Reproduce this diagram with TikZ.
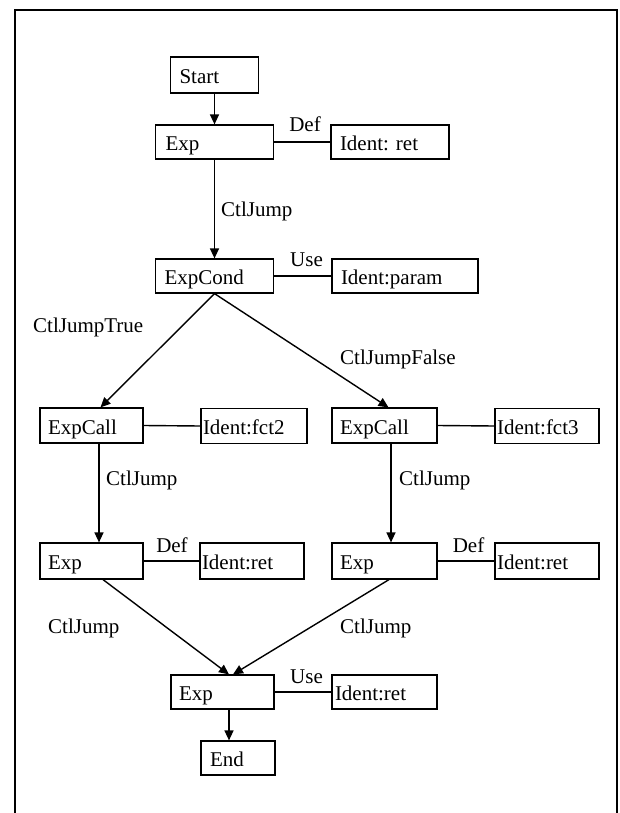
\documentclass[tikz,border=0pt]{standalone}
\usepackage{fontspec}
\setmainfont{Liberation Serif}
\usetikzlibrary{arrows.meta}
\newcommand{\myfont}{\fontsize{21pt}{24pt}\selectfont}
\tikzset{
  bx/.style={draw, line width=1.2pt, rectangle, inner ysep=0pt, text height=19pt, text depth=2pt, align=left, font=\myfont},
  lbl/.style={inner sep=0pt, font=\myfont},
  conn/.style={line width=1.4pt},
  arr/.style={line width=1.4pt, -{Triangle[length=10pt,width=9pt]}},
  frame/.style={line width=1.5pt},
}
\begin{document}
\begin{tikzpicture}[x=1pt,y=-1pt]
\useasboundingbox (0,0) rectangle (619,813);
\draw[frame] (15,813) -- (15,10) -- (617,10) -- (617,813);

% boxes
\node[bx, minimum height=36pt, inner xsep=9pt, text width=70pt] (start) at (214.5,75) {Start};
\node[bx, minimum height=34pt, inner xsep=10pt, text width=98pt] (exp1) at (214.5,142) {Exp};
\node[bx, minimum height=34pt, inner xsep=9pt, text width=100pt] (idret1) at (390,142) {Ident:\ ret};
\node[bx, minimum height=34pt, inner xsep=9pt, text width=100pt] (expcond) at (214.5,276) {ExpCond};
\node[bx, minimum height=34pt, inner xsep=9pt, text width=128pt] (idparam) at (405,276) {Ident:param};
\node[bx, minimum height=35pt, inner xsep=8pt, text width=87pt] (call1) at (91.5,425.5) {ExpCall};
\node[bx, minimum height=35pt, inner xsep=2pt, text width=102pt] (idfct2) at (254,426) {Ident:fct2};
\node[bx, minimum height=35pt, inner xsep=8pt, text width=89pt] (call2) at (384.5,425.5) {ExpCall};
\node[bx, minimum height=35pt, inner xsep=2pt, text width=100pt] (idfct3) at (547,426) {Ident:fct3};
\node[bx, minimum height=36pt, inner xsep=8pt, text width=87pt] (exp2) at (91.5,561) {Exp};
\node[bx, minimum height=36pt, inner xsep=2pt, text width=100pt] (idret2) at (252,561) {Ident:ret};
\node[bx, minimum height=36pt, inner xsep=8pt, text width=89pt] (exp3) at (384.5,561) {Exp};
\node[bx, minimum height=36pt, inner xsep=2pt, text width=100pt] (idret3) at (547,561) {Ident:ret};
\node[bx, minimum height=34pt, inner xsep=8pt, text width=87pt] (exp4) at (222.5,692) {Exp};
\node[bx, minimum height=34pt, inner xsep=3pt, text width=99pt] (idret4) at (384.5,692) {Ident:ret};
\node[bx, minimum height=34pt, inner xsep=9pt, text width=56pt] (end) at (238,758) {End};

% connectors
\draw[arr] (start.south) -- (exp1.north);
\draw[conn] (exp1.east) -- (idret1.west);
\draw[arr] (exp1.south) -- (expcond.north);
\draw[conn] (expcond.east) -- (idparam.west);
\draw[arr] (expcond.south) -- ([xshift=9pt]call1.north);
\draw[arr] (expcond.south) -- ([xshift=4pt]call2.north);
\draw[conn] (call1.east) -- (idfct2.west);
\draw[conn] (call2.east) -- (idfct3.west);
\draw[arr] ([xshift=7.5pt]call1.south) -- ([xshift=7.5pt]exp2.north);
\draw[arr] ([xshift=6.5pt]call2.south) -- ([xshift=6.5pt]exp3.north);
\draw[conn] (exp2.east) -- (idret2.west);
\draw[conn] (exp3.east) -- (idret3.west);
\draw[arr] ([xshift=11.5pt]exp2.south) -- ([xshift=6.5pt]exp4.north);
\draw[arr] ([xshift=4.5pt]exp3.south) -- ([xshift=10.5pt]exp4.north);
\draw[conn] (exp4.east) -- (idret4.west);
\draw[arr] ([xshift=6.5pt]exp4.south) -- ([xshift=-9pt]end.north);

% labels
\node[lbl, anchor=base] (ldef1) at (305,131.5) {Def};
\node[lbl, anchor=base] (luse1) at (306.5,266) {Use};
\node[lbl, anchor=base west] (lj1) at (221,216.5) {CtlJump};
\node[lbl, anchor=base west] (ljt) at (33,332) {CtlJumpTrue};
\node[lbl, anchor=base west] (ljf) at (340,364) {CtlJumpFalse};
\node[lbl, anchor=base west] (lj2) at (106,485) {CtlJump};
\node[lbl, anchor=base west] (lj3) at (399,485) {CtlJump};
\node[lbl, anchor=base] (ldef2) at (172,552) {Def};
\node[lbl, anchor=base] (ldef3) at (468.5,552) {Def};
\node[lbl, anchor=base west] (lj4) at (48,633) {CtlJump};
\node[lbl, anchor=base west] (lj5) at (340,633) {CtlJump};
\node[lbl, anchor=base] (luse4) at (306.5,683) {Use};
\end{tikzpicture}
\end{document}
